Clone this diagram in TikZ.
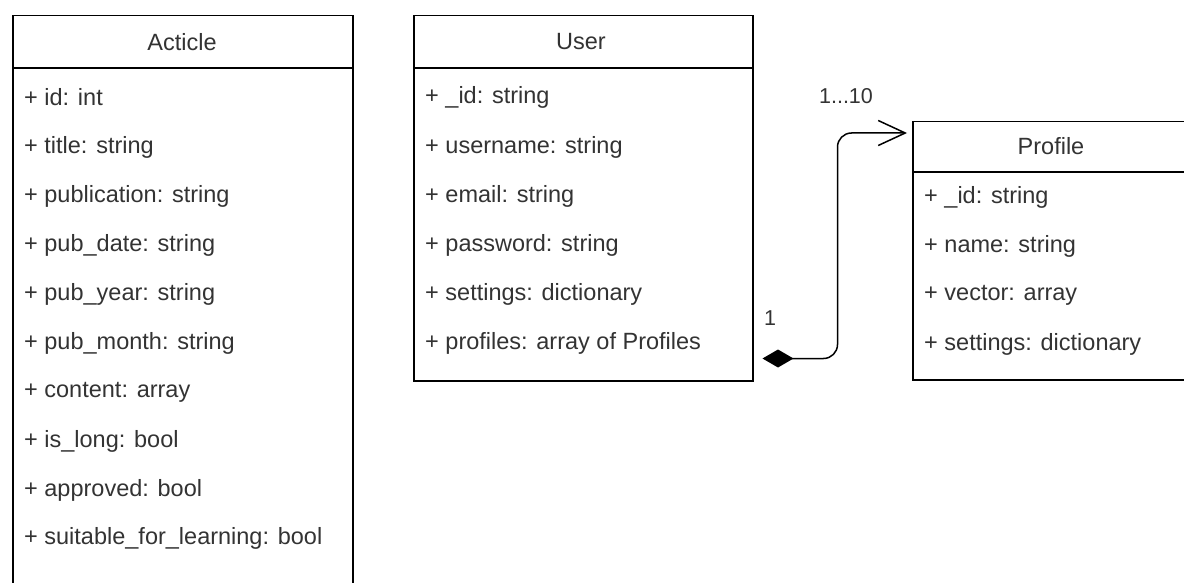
\documentclass[tikz,border=0pt]{standalone}
\usepackage{fontspec}
\setmainfont{Liberation Sans}
\usetikzlibrary{arrows.meta,calc}
\begin{document}
\begin{tikzpicture}[x=1pt,y=-1pt,
  box/.style={draw=black,line width=1.5pt,rectangle,inner sep=0pt,anchor=north west},
  sep/.style={draw=black,line width=1.5pt},
  attr/.style={anchor=west,inner sep=0pt,font=\fontsize{23.5}{28}\selectfont,text=black!80},
  ttl/.style={inner sep=0pt,font=\fontsize{23.5}{28}\selectfont,text=black!80},
  lbl/.style={inner sep=0pt,font=\fontsize{21.5}{26}\selectfont,text=black!80},
  conn/.style={draw=black,line width=1.5pt,rounded corners=14pt,
    {Diamond[length=31pt,width=18pt]}-{Straight Barb[length=27pt,width=25pt]}}]
\useasboundingbox (0,0) rectangle (1184,583);
\clip (0,0) rectangle (1184,583);
\fill[white] (0,0) rectangle (1184,583);

% Acticle
\node[box,minimum width=340pt,minimum height=620pt] (article) at (12,15) {};
\draw[sep] ($(article.north west)+(0,53)$) -- ($(article.north east)+(0,53)$);
\node[ttl] (articleT) at (182,42) {Acticle};
\node[attr] (a1) at (24,97) {+ id: int};
\node[attr] (a2) at (24,147) {+ title: string};
\node[attr] (a3) at (24,196) {+ publication: string};
\node[attr] (a4) at (24,245) {+ pub\_date: string};
\node[attr] (a5) at (24,294) {+ pub\_year: string};
\node[attr] (a6) at (24,343) {+ pub\_month: string};
\node[attr] (a7) at (24,392) {+ content: array};
\node[attr] (a8) at (24,441) {+ is\_long: bool};
\node[attr] (a9) at (24,490) {+ approved: bool};
\node[attr] (a10) at (24,538) {+ suitable\_for\_learning: bool};

% User
\node[box,minimum width=339pt,minimum height=365pt] (user) at (413,15) {};
\draw[sep] ($(user.north west)+(0,53)$) -- ($(user.north east)+(0,53)$);
\node[ttl] (userT) at (581,42) {User};
\node[attr] (u1) at (425,97) {+ \_id: string};
\node[attr] (u2) at (425,147) {+ username: string};
\node[attr] (u3) at (425,196) {+ email: string};
\node[attr] (u4) at (425,245) {+ password: string};
\node[attr] (u5) at (425,294) {+ settings: dictionary};
\node[attr] (u6) at (425,343) {+ profiles: array of Profiles};

% Profile
\node[box,minimum width=278pt,minimum height=258pt] (profile) at (912,121) {};
\draw[sep] ($(profile.north west)+(0,51)$) -- ($(profile.north east)+(0,51)$);
\node[ttl] (profileT) at (1051,146) {Profile};
\node[attr] (p1) at (924,197) {+ \_id: string};
\node[attr] (p2) at (924,246) {+ name: string};
\node[attr] (p3) at (924,295) {+ vector: array};
\node[attr] (p4) at (924,344) {+ settings: dictionary};

% connector
\coordinate (cs) at ($(user.south east)+(9,-23)$);
\coordinate (ce) at ($(profile.north west)+(-5,12)$);
\draw[conn] (cs) -- ++(75,0) |- (ce);
\node[lbl] (m1) at (846,96) {1...10};
\node[lbl] (m2) at (770,318) {1};
\end{tikzpicture}
\end{document}
